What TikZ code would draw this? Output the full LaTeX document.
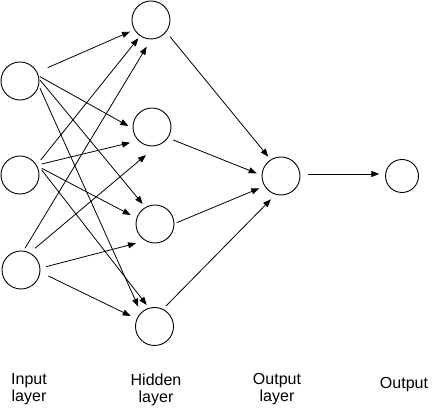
\documentclass[tikz,border=0pt]{standalone}
\usepackage{fontspec}
\setmainfont{Liberation Sans}
\usetikzlibrary{arrows.meta}
\begin{document}
\begin{tikzpicture}[x=1pt,y=-1pt,
  neuron/.style={circle,draw,line width=0.9pt,minimum size=38pt,inner sep=0pt},
  outneuron/.style={neuron,minimum size=33pt},
  conn/.style={line width=0.8pt,-{Triangle[length=8pt,width=6pt]}},
  lbl/.style={font=\fontsize{16}{17}\selectfont,align=center,inner sep=0pt}]
\useasboundingbox (0,0) rectangle (437,411);
% nodes
\node[neuron] (i1) at (20,81) {};
\node[neuron] (i2) at (20,175) {};
\node[neuron] (i3) at (21,270) {};
\node[neuron] (h1) at (151,20) {};
\node[neuron] (h2) at (152,127) {};
\node[neuron] (h3) at (155,224) {};
\node[neuron] (h4) at (154.5,326.5) {};
\node[neuron] (o) at (281,176) {};
\node[outneuron] (out) at (402,176) {};
% input -> hidden
\draw[conn] ([shift={(27.7,-13.3)}]i1.center) -- ([shift={(-21,11.7)}]h1.center);
\draw[conn] ([shift={(20,-4.3)}]i1.center) -- ([shift={(-23.7,-1)}]h2.center);
\draw[conn] ([shift={(20,-1)}]i1.center) -- ([shift={(-12.3,-20)}]h3.center);
\draw[conn] ([shift={(20,7.3)}]i1.center) -- ([shift={(-16.2,-19.8)}]h4.center);
\draw[conn] ([shift={(20.7,-15)}]i2.center) -- ([shift={(-12.7,18.3)}]h1.center);
\draw[conn] ([shift={(21.7,-11)}]i2.center) -- ([shift={(-22,15.7)}]h2.center);
\draw[conn] ([shift={(21.7,-6.7)}]i2.center) -- ([shift={(-24.3,-9)}]h3.center);
\draw[conn] ([shift={(21.7,-5)}]i2.center) -- ([shift={(-7.8,-21.5)}]h4.center);
\draw[conn] ([shift={(4,-21.7)}]i3.center) -- ([shift={(-4.3,26.7)}]h1.center);
\draw[conn] ([shift={(14,-21.7)}]i3.center) -- ([shift={(-6,28)}]h2.center);
\draw[conn] ([shift={(25,-3.3)}]i3.center) -- ([shift={(-19,19.3)}]h3.center);
\draw[conn] ([shift={(27.3,6)}]i3.center) -- ([shift={(-23.8,-10.5)}]h4.center);
% hidden -> output layer
\draw[conn] ([shift={(19,16.7)}]h1.center) -- ([shift={(-12.7,-19.3)}]o.center);
\draw[conn] ([shift={(21.3,13)}]h2.center) -- ([shift={(-24.3,-2.7)}]o.center);
\draw[conn] ([shift={(21.7,-1.3)}]h3.center) -- ([shift={(-21.7,12.3)}]o.center);
\draw[conn] ([shift={(11.5,-20.5)}]h4.center) -- ([shift={(-10,23.3)}]o.center);
% output layer -> output
\draw[conn] ([shift={(26.7,-2)}]o.center) -- ([shift={(-22.7,-2)}]out.center);
% labels
\node[lbl] (linput) at (29,389.5) {Input\\layer};
\node[lbl] (lhidden) at (156,389.5) {Hidden\\layer};
\node[lbl] (loutl) at (277,389.5) {Output\\layer};
\node[lbl,anchor=base] (lout) at (404,388.3) {Output};
\end{tikzpicture}
\end{document}
